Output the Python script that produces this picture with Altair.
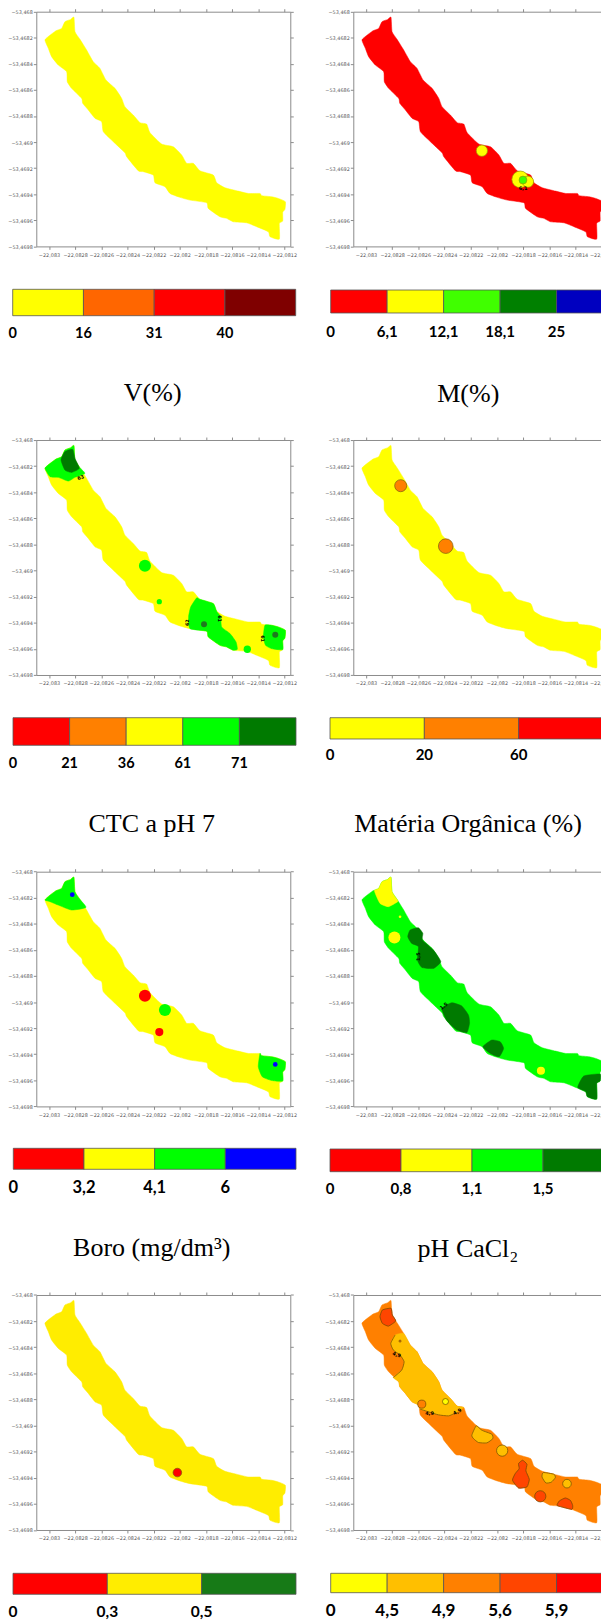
import altair as alt
import pandas as pd

# ---- axis ticks (degrees)
LON_TICKS = [-22.083, -22.0828, -22.0826, -22.0824, -22.0822, -22.082, -22.0818, -22.0816, -22.0814, -22.0812]
LAT_TICKS = [-53.468, -53.4682, -53.4684, -53.4686, -53.4688, -53.469, -53.4692, -53.4694, -53.4696, -53.4698]
LON_DOMAIN = [-22.083097, -22.081154]
LAT_DOMAIN = [-53.4698, -53.468]
LON0, LAT0 = -22.083, -53.468   # offsets below are in millionths of a degree from here

# ---- field outline
STRIP_E = [-31, 3, 54, 97, 122, 166, 191, 199, 237, 288, 339, 390, 436, 505, 556, 581, 645, 696, 747, 773, 862, 951,
           1015, 1053, 1104, 1155, 1257, 1283, 1346, 1448, 1525, 1614, 1627, 1703, 1754, 1808, 1805, 1788, 1788, 1762,
           1762, 1691, 1678, 1589, 1512, 1410, 1359, 1308, 1219, 1206, 1079, 1002, 926, 887, 811, 798, 722, 683, 594,
           581, 492, 416, 403, 352, 301, 258, 250, 173, 140, 135, 71, 20, -5]
STRIP_S = [217, 184, 146, 128, 77, 59, 43, 153, 212, 294, 384, 435, 524, 588, 665, 729, 793, 851, 862, 928, 1015, 1036,
           1099, 1163, 1163, 1220, 1253, 1312, 1350, 1376, 1394, 1394, 1411, 1419, 1432, 1457, 1516, 1539, 1606, 1624,
           1744, 1726, 1688, 1649, 1619, 1611, 1585, 1573, 1509, 1465, 1445, 1424, 1394, 1342, 1312, 1253, 1227, 1220,
           1112, 1082, 997, 921, 844, 818, 754, 703, 665, 588, 537, 460, 409, 345, 281]

# ---- classes per panel: a zone = (colour, parts); a part is an outline slice (i, j) or a list of (east, south)
M_CIRCLES = [(885, 1066, 43, "#ffff00"), (1178, 1286, 64, "#ffff00"), (1237, 1304, 43, "#ffff00"), (1199, 1291, 30, "#40ff00")]
M_LABELS = [("6,1", 1199, 1350, 0)]

CTC_ZONES = [
    ("#00ff00", [(0, 8), [(275, 256), (199, 286), (148, 315), (71, 286), (8, 281)]]),
    ("#007a00", [[(92, 153), (122, 89), (181, 72), (199, 141), (232, 217), (173, 248), (122, 230)]]),
    ("#00ff00", [(25, 27), [(1313, 1355), (1321, 1432), (1385, 1483), (1431, 1547), (1441, 1603)], (45, 50),
                 [(1068, 1355), (1084, 1279), (1130, 1209)]]),
    ("#00ff00", [(33, 38), [(1703, 1598), (1657, 1573), (1640, 1509), (1652, 1419)]]),
]
CTC_CIRCLES = [(734, 964, 46, "#00ff00"), (844, 1238, 20, "#00ff00"), (1186, 1411, 23, "#1e7a1e"),
               (1517, 1603, 28, "#00ff00"), (1731, 1491, 23, "#1e7a1e")]
CTC_LABELS = [("63", 242, 286, -20), ("62", 1058, 1399, 270), ("61", 1311, 1368, 90), ("61", 1640, 1521, 90)]

MO_CIRCLES = [(265, 350, 46, "#ff8000"), (609, 813, 56, "#ff8000")]

B_ZONES = [
    ("#00ff00", [(0, 8), [(283, 274), (173, 294), (71, 256), (8, 230)]]),
    ("#00ff00", [(31, 38), [(1703, 1601), (1632, 1573), (1601, 1496)]]),
]
B_CIRCLES = [(178, 176, 18, "#0000ff"), (734, 951, 46, "#ff0000"), (887, 1061, 46, "#00ff00"),
             (844, 1230, 31, "#ff0000"), (1731, 1478, 18, "#0000ff")]

PH_ZONES = [
    ("#ffff00", [(3, 8), [(242, 230), (171, 268), (107, 243), (64, 146)]]),
    ("#007a00", [[(319, 499), (337, 447), (400, 430), (434, 473), (431, 524), (515, 601), (571, 690), (515, 742),
                  (426, 734), (393, 678), (400, 575), (349, 550)]]),
    ("#007a00", [[(579, 1048), (655, 1005), (732, 1030), (783, 1100), (791, 1163), (770, 1235), (694, 1215), (617, 1143)]]),
    ("#007a00", [[(893, 1342), (961, 1291), (1025, 1304), (1051, 1355), (1017, 1419), (949, 1394)]]),
    ("#007a00", [[(1663, 1567), (1788, 1552)], (38, 42), [(1617, 1654)]]),
]
PH_CIRCLES = [(260, 345, 10, "#ffff00"), (217, 504, 46, "#ffff00"), (1336, 1527, 31, "#ffff00")]
PH_LABELS = [("1,5", 400, 652, -90), ("1,5", 592, 1028, -40)]

S_CIRCLES = [(982, 1360, 33, "#ff0000")]

P8_ZONES = [
    ("#ff4500", [[(107, 166), (125, 115), (191, 102), (201, 153), (227, 199), (171, 238), (125, 217)]]),
    ("#ffbf00", [(9, 18), [(681, 905), (630, 926), (553, 918), (477, 895), (413, 874)], (62, 66),
                 [(209, 632), (273, 575), (291, 511), (260, 460), (209, 422), (189, 371), (222, 307)]]),
    ("#ffbf00", [[(808, 1074), (842, 1002), (885, 1036), (961, 1066), (969, 1100), (923, 1133), (859, 1130), (821, 1100)]]),
    ("#ff4500", [[(1196, 1266), (1229, 1296), (1221, 1347), (1247, 1412), (1229, 1470), (1165, 1478), (1119, 1419),
                  (1140, 1368), (1170, 1330), (1165, 1291)]]),
    ("#ffbf00", [[(1344, 1394), (1354, 1360), (1436, 1373), (1446, 1399), (1415, 1434), (1374, 1440)]]),
    ("#ff4500", [[(1459, 1611), (1476, 1578), (1522, 1555), (1561, 1573), (1578, 1611), (1573, 1642), (1497, 1624)]]),
]
P8_CIRCLES = [(426, 836, 31, "#ff8000"), (607, 816, 23, "#ffff00"), (260, 353, 8, "#ff8000"), (1040, 1192, 43, "#ffbf00"),
              (1535, 1445, 33, "#ffbf00"), (1331, 1542, 43, "#ff4500")]
P8_LABELS = [("4,9", 235, 455, 20), ("4,9", 485, 903, 0), ("4,9", 696, 892, -30)]

# ---- layout: the page shrinks a 601-wide picture into its 593-wide column and centres it
# vertically, so layout values (page position minus the 8px margin) are mapped back through that.
W, H = 601, 1615
FIT = 593 / W
cx = lambda x: x / FIT
cy = lambda y: (y - H * (1 - FIT) / 2) / FIT
DEG_PER_PX = 7.65  # millionths of a degree per pixel
COLX = [(28.3, 282.3), (345.3, 599.7)]
ROWY = [(3.7, 238.4), (432, 667), (863.7, 1098.4), (1287, 1522)]

PANELS = [
    dict(col=0, row=0, base="#ffff00", colors=["#ffff00", "#ff6600", "#ff0000", "#7f0000"], ticks=["0", "16", "31", "40"],
         bar=(4.7, 287.7, 281.3, 307.7), lab_y=326, lab_size=14.5, cap="V(%)", cap_x=144.7, cap_y=393),
    dict(col=1, row=0, base="#ff0000", colors=["#ff0000", "#ffff00", "#40ff00", "#008000", "#0000c0"],
         ticks=["0", "6,1", "12,1", "18,1", "25"], bar=(322.7, 605, 282, 305), lab_y=324, lab_size=15, cap="M(%)",
         cap_x=460.3, cap_y=393.7, circles=M_CIRCLES, labels=M_LABELS, edge="#999900"),
    dict(col=0, row=1, base="#ffff00", colors=["#ff0000", "#ff8000", "#ffff00", "#00ff00", "#007a00"],
         ticks=["0", "21", "36", "61", "71"], bar=(5, 288, 709.7, 737.3), lab_y=756.3, lab_size=14.5, cap="CTC a pH 7",
         cap_x=143.7, cap_y=823.7, zones=CTC_ZONES, circles=CTC_CIRCLES, labels=CTC_LABELS),
    dict(col=1, row=1, base="#ffff00", colors=["#ffff00", "#ff8000", "#ff0000"], ticks=["0", "20", "60"],
         bar=(322, 605, 709.7, 731), lab_y=747, lab_size=15, cap="Matéria Orgânica (%)", cap_x=460, cap_y=824,
         circles=MO_CIRCLES, edge="#7a5a10"),
    dict(col=0, row=2, base="#ffff00", colors=["#ff0000", "#ffff00", "#00ff00", "#0000ff"], ticks=["0", "3,2", "4,1", "6"],
         bar=(5.3, 288, 1140.3, 1161.3), lab_y=1179.7, lab_size=16.5, cap="Boro (mg/dm³)", cap_x=143.7, cap_y=1248,
         zones=B_ZONES, circles=B_CIRCLES),
    dict(col=1, row=2, base="#00ff00", colors=["#ff0000", "#ffff00", "#00ff00", "#007a00"], ticks=["0", "0,8", "1,1", "1,5"],
         bar=(322, 606, 1141, 1163.7), lab_y=1181.3, lab_size=15, cap="pH CaCl₂", cap_x=460, cap_y=1249.3,
         zones=PH_ZONES, circles=PH_CIRCLES, labels=PH_LABELS),
    dict(col=0, row=3, base="#ffed00", colors=["#ff0000", "#ffed00", "#177a17"], ticks=["0", "0,3", "0,5"],
         bar=(5, 288, 1565.3, 1586.3), lab_y=1603.7, lab_size=15.5, circles=S_CIRCLES, edge="#7a5a10"),
    dict(col=1, row=3, base="#ff8000", colors=["#ffff00", "#ffbf00", "#ff8000", "#ff4500", "#ff0000"],
         ticks=["0", "4,5", "4,9", "5,6", "5,9"], bar=(322.7, 605, 1565.3, 1584.7), lab_y=1602.7, lab_size=17,
         zones=P8_ZONES, zone_edge="#7a5000", circles=P8_CIRCLES, labels=P8_LABELS, edge="#6b4a00"),
]

AXIS_GREY = "#8a8a8a"
LABEL_EXPR = "replace(format(datum.value, '.4~f'), '.', ',')"
CURVE = dict(interpolate="cardinal-closed", tension=0.5)


def polygon(parts):
    pts = []
    for part in parts:
        if isinstance(part, tuple):
            i, j = part
            pts += list(zip(STRIP_E[i:j + 1], STRIP_S[i:j + 1]))
        else:
            pts += part
    return pd.DataFrame({
        "lon": [LON0 + e * 1e-6 for e, _ in pts],
        "lat": [LAT0 - s * 1e-6 for _, s in pts],
        "i": list(range(len(pts))),
    })


def panel_layers(p):
    xa, xb = map(cx, COLX[p["col"]])
    ya, yb = map(cy, ROWY[p["row"]])
    xs = alt.Scale(domain=LON_DOMAIN, range=[xa, xb], nice=False, zero=False)
    ys = alt.Scale(domain=LAT_DOMAIN, range=[yb, ya], nice=False, zero=False)
    X = alt.X("lon:Q", scale=xs, axis=None)
    Y = alt.Y("lat:Q", scale=ys, axis=None)
    common = dict(domainColor=AXIS_GREY, tickColor=AXIS_GREY, tickSize=3, grid=False, title=None,
                  labelFont="DejaVu Sans", labelFontSize=5, labelColor="#555555", labelOverlap=False,
                  labelBound=False, labelFlush=False, labelExpr=LABEL_EXPR)
    out = []
    strip = polygon([(0, len(STRIP_E) - 1)])
    # outline with bottom/left axes
    out.append(alt.Chart(strip).mark_line(fill=p["base"], stroke=p["base"], strokeWidth=0.5, **CURVE).encode(
        x=alt.X("lon:Q", scale=xs, axis=alt.Axis(orient="bottom", values=LON_TICKS, offset=-(H - yb), labelPadding=3, **common)),
        y=alt.Y("lat:Q", scale=ys, axis=alt.Axis(orient="left", values=LAT_TICKS, offset=-xa, labelPadding=1, **common)),
        order="i:Q"))
    # invisible layer carrying the top/right frame
    frame = {**common, "labels": False}
    frame.pop("labelExpr")
    out.append(alt.Chart(strip).mark_point(opacity=0).encode(
        x=alt.X("lon:Q", scale=xs, axis=alt.Axis(orient="top", values=LON_TICKS, offset=-ya, **frame)),
        y=alt.Y("lat:Q", scale=ys, axis=alt.Axis(orient="right", values=LAT_TICKS, offset=-(W - xb), **frame))))
    # class zones, with contour lines only along their inner boundaries
    for color, parts in p.get("zones", []):
        out.append(alt.Chart(polygon(parts)).mark_line(fill=color, stroke=color, strokeWidth=0.5, **CURVE).encode(
            x=X, y=Y, order="i:Q"))
        if p.get("zone_edge"):
            for part in parts:
                if isinstance(part, list):
                    whole = len(parts) == 1
                    out.append(alt.Chart(polygon([part])).mark_line(
                        interpolate="cardinal-closed" if whole else "cardinal", tension=0.5,
                        stroke=p["zone_edge"], strokeWidth=0.8).encode(x=X, y=Y, order="i:Q"))
    # small round classes
    if p.get("circles"):
        c = pd.DataFrame(p["circles"], columns=["e", "s", "r", "c"])
        c["lon"] = LON0 + c["e"] * 1e-6
        c["lat"] = LAT0 - c["s"] * 1e-6
        c["size"] = (2 * c["r"] / DEG_PER_PX / FIT) ** 2
        out.append(alt.Chart(c).mark_point(filled=True, opacity=1, stroke=p.get("edge", "#ffffff"),
                                           strokeWidth=0.7 if p.get("edge") else 0).encode(
            x=X, y=Y, fill=alt.Fill("c:N", scale=None), size=alt.Size("size:Q", scale=None)))
    # contour labels
    for text, e, s, angle in p.get("labels", []):
        d = pd.DataFrame({"lon": [LON0 + e * 1e-6], "lat": [LAT0 - s * 1e-6], "t": [text]})
        out.append(alt.Chart(d).mark_text(font="DejaVu Sans", fontSize=5, fontWeight="bold", color="#000000",
                                          angle=(angle + 360) % 360, baseline="middle").encode(x=X, y=Y, text="t:N"))
    # colour bar
    n = len(p["colors"])
    x0, x1, y0, y1 = p["bar"]
    bs = alt.Scale(domain=[0, n], range=[cx(x0), cx(x1)], nice=False, zero=False)
    bar = pd.DataFrame({"s": list(range(n)), "e": list(range(1, n + 1)), "c": p["colors"]})
    out.append(alt.Chart(bar).mark_rect(stroke="#555555", strokeWidth=0.8).encode(
        x=alt.X("s:Q", scale=bs, axis=None), x2="e:Q", y=alt.value(cy(y0)), y2=alt.value(cy(y1)),
        fill=alt.Fill("c:N", scale=None)))
    ticks = pd.DataFrame({"s": list(range(len(p["ticks"]))), "t": p["ticks"]})
    out.append(alt.Chart(ticks).mark_text(font="Lato", fontWeight="bold", fontSize=p["lab_size"] / FIT,
                                          color="#000000", baseline="middle").encode(
        x=alt.X("s:Q", scale=bs, axis=None), y=alt.value(cy(p["lab_y"])), text="t:N"))
    # caption
    if p.get("cap"):
        cap = pd.DataFrame({"t": [p["cap"]]})
        out.append(alt.Chart(cap).mark_text(font="Liberation Serif", fontSize=26 / FIT, color="#000000",
                                            baseline="alphabetic").encode(
            x=alt.value(cx(p["cap_x"])), y=alt.value(cy(p["cap_y"])), text="t:N"))
    return out


layers = [layer for p in PANELS for layer in panel_layers(p)]
chart = alt.layer(*layers).resolve_scale(x="independent", y="independent").properties(
    width=W, height=H, padding=0, autosize=alt.AutoSizeParams(type="none", contains="padding"),
    background="#ffffff").configure_view(stroke=None)
chart.save("out.html", embed_options={"renderer": "svg", "actions": False})
